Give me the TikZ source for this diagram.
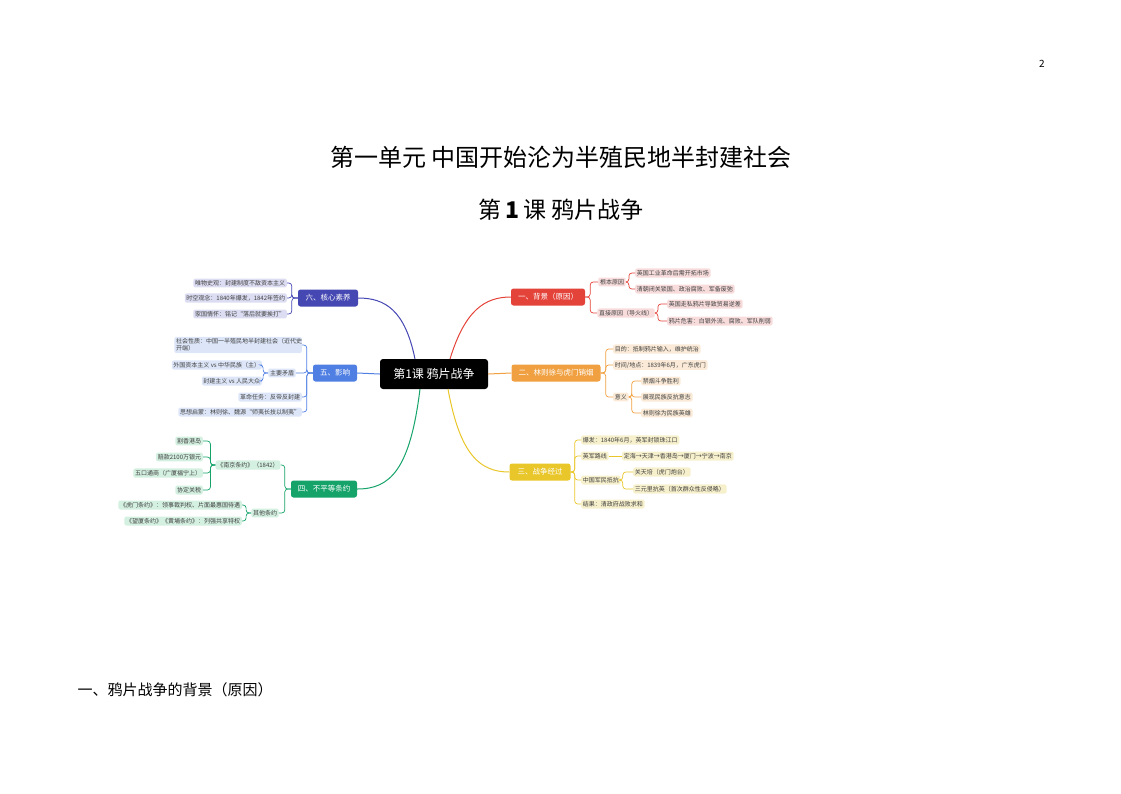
\documentclass[tikz,border=0pt]{standalone}
\usepackage{fontspec}
\setmainfont{Noto Sans CJK SC}
\begin{document}
\begin{tikzpicture}[x=1pt,y=-1pt,
 leaf/.style={fill=#1,rounded corners=2,inner sep=1.7pt,font=\fontsize{6}{7}\selectfont,text=black!75},
 br/.style={fill=#1,rounded corners=2.5,inner sep=2.5pt,minimum height=17,font=\fontsize{7.5}{9}\selectfont,text=white},
 ln/.style={draw=#1,line width=0.7pt,rounded corners=3},
 cv/.style={draw=#1,line width=1pt}]
\definecolor{cP}{HTML}{4547B3}\definecolor{lP}{HTML}{DCDDF2}
\definecolor{cB}{HTML}{4F7FE3}\definecolor{lB}{HTML}{DDE6F8}
\definecolor{cG}{HTML}{15A36A}\definecolor{lG}{HTML}{D4F0E1}
\definecolor{cR}{HTML}{E4433A}\definecolor{lR}{HTML}{F8DCDC}
\definecolor{cO}{HTML}{F0A040}\definecolor{lO}{HTML}{FAEAD7}
\definecolor{cY}{HTML}{E9C62A}\definecolor{lY}{HTML}{F7F0CC}
\useasboundingbox (0,0) rectangle (1121,793);
\node[font=\fontsize{10}{12}\selectfont] (pg) at (1042,64) {2};
\node[font=\fontsize{24}{28}\selectfont] (t1) at (561,157) {第一单元\ 中国开始沦为半殖民地半封建社会};
\node[font=\fontsize{23}{27}\selectfont] (t2) at (561,210) {第\,\textbf{1}\,课\ 鸦片战争};
\node[font=\fontsize{15}{18}\selectfont,anchor=west] (h1) at (74,690) {一、鸦片战争的背景（原因）};
% center
\node[fill=black,rounded corners=3,text=white,font=\fontsize{12}{14}\selectfont,minimum width=108,minimum height=30] (c) at (434,374) {第1课 鸦片战争};
% branches
\node[br=cP,minimum width=60] (b6) at (328,298) {六、核心素养};
\node[br=cB,minimum width=44] (b5) at (335,373) {五、影响};
\node[br=cG,minimum width=66] (b4) at (324,489) {四、不平等条约};
\node[br=cR,minimum width=74] (b1) at (548,297) {一、背景（原因）};
\node[br=cO,minimum width=89] (b2) at (556,373) {二、林则徐与虎门销烟};
\node[br=cY,minimum width=61] (b3) at (540,472) {三、战争经过};
\draw[cv=cP] (415,359) .. controls (405,310) and (385,298) .. (b6.east);
\draw[cv=cB] (c.west) -- (b5.east);
\draw[cv=cG] (420,389) .. controls (410,470) and (390,489) .. (b4.east);
\draw[cv=cR] (450,359) .. controls (465,310) and (485,297) .. (b1.west);
\draw[cv=cO] (c.east) -- (b2.west);
\draw[cv=cY] (448,389) .. controls (460,455) and (480,472) .. (b3.west);
% 六
\node[leaf=lP,anchor=east] (l61) at (287,283) {唯物史观：封建制度不敌资本主义};
\node[leaf=lP,anchor=east] (l62) at (287,298) {时空观念：1840年爆发，1842年签约};
\node[leaf=lP,anchor=east] (l63) at (287,314) {家国情怀：铭记“落后就要挨打”};
\foreach \n in {l61,l62,l63} \draw[ln=cP] (b6.west) -- ++(-6,0) |- (\n.east);
% 五
\node[leaf=lB,anchor=east,text width=124,align=left] (l51) at (302,345) {社会性质：中国一半殖民地半封建社会（近代史\\开端）};
\node[leaf=lB] (m5) at (282,373) {主要矛盾};
\node[leaf=lB,anchor=east] (l52) at (302,397) {革命任务：反帝反封建};
\node[leaf=lB,anchor=east] (l53) at (302,412) {思想启蒙：林则徐、魏源“师夷长技以制夷”};
\node[leaf=lB,anchor=east] (l5a) at (262,365) {外国资本主义 vs 中华民族（主）};
\node[leaf=lB,anchor=east] (l5b) at (262,381) {封建主义 vs 人民大众};
\foreach \n in {l51,m5,l52,l53} \draw[ln=cB] (b5.west) -- ++(-6,0) |- (\n.east);
\foreach \n in {l5a,l5b} \draw[ln=cB] (m5.west) -- ++(-5,0) |- (\n.east);
% 四
\node[leaf=lG] (n4) at (248,465) {《南京条约》（1842）};
\node[leaf=lG] (o4) at (265,513) {其他条约};
\foreach \n in {n4,o4} \draw[ln=cG] (b4.west) -- ++(-6,0) |- (\n.east);
\node[leaf=lG,anchor=east] (g1) at (203,441) {割香港岛};
\node[leaf=lG,anchor=east] (g2) at (203,457) {赔款2100万银元};
\node[leaf=lG,anchor=east] (g3) at (203,473) {五口通商（广厦福宁上）};
\node[leaf=lG,anchor=east] (g4) at (203,490) {协定关税};
\foreach \n in {g1,g2,g3,g4} \draw[ln=cG] (n4.west) -- ++(-5,0) |- (\n.east);
\node[leaf=lG,anchor=east] (g5) at (242,505) {《虎门条约》：领事裁判权、片面最惠国待遇};
\node[leaf=lG,anchor=east] (g6) at (242,521) {《望厦条约》《黄埔条约》：列强共享特权};
\foreach \n in {g5,g6} \draw[ln=cG] (o4.west) -- ++(-5,0) |- (\n.east);
% 一
\node[leaf=lR] (r1) at (612,282) {根本原因};
\node[leaf=lR] (r2) at (626,313) {直接原因（导火线）};
\foreach \n in {r1,r2} \draw[ln=cR] (b1.east) -- ++(5,0) |- (\n.west);
\node[leaf=lR,anchor=west] (r11) at (635,273) {英国工业革命后需开拓市场};
\node[leaf=lR,anchor=west] (r12) at (635,289) {清朝闭关锁国、政治腐败、军备废弛};
\foreach \n in {r11,r12} \draw[ln=cR] (r1.east) -- ++(3,0) |- (\n.west);
\node[leaf=lR,anchor=west] (r21) at (667,304) {英国走私鸦片导致贸易逆差};
\node[leaf=lR,anchor=west] (r22) at (667,321) {鸦片危害：白银外流、腐败、军队削弱};
\foreach \n in {r21,r22} \draw[ln=cR] (r2.east) -- ++(3,0) |- (\n.west);
% 二
\node[leaf=lO,anchor=west] (o1) at (613,349) {目的：抵制鸦片输入，维护统治};
\node[leaf=lO,anchor=west] (o2) at (613,365) {时间/地点：1839年6月，广东虎门};
\node[leaf=lO,anchor=west] (o3) at (613,397) {意义};
\foreach \n in {o1,o2,o3} \draw[ln=cO] (b2.east) -- ++(5,0) |- (\n.west);
\node[leaf=lO,anchor=west] (o31) at (641,381) {禁烟斗争胜利};
\node[leaf=lO,anchor=west] (o32) at (641,397) {展现民族反抗意志};
\node[leaf=lO,anchor=west] (o33) at (641,413) {林则徐为民族英雄};
\foreach \n in {o31,o32,o33} \draw[ln=cO] (o3.east) -- ++(3,0) |- (\n.west);
% 三
\node[leaf=lY,anchor=west] (y1) at (581,440) {爆发：1840年6月，英军封锁珠江口};
\node[leaf=lY,anchor=west] (y2) at (581,456) {英军路线};
\node[leaf=lY,anchor=west] (y3) at (581,480) {中国军民抵抗};
\node[leaf=lY,anchor=west] (y4) at (581,504) {结果：清政府战败求和};
\foreach \n in {y1,y2,y3,y4} \draw[ln=cY] (b3.east) -- ++(4,0) |- (\n.west);
\node[leaf=lY,anchor=west] (y21) at (622,456) {定海→天津→香港岛→厦门→宁波→南京};
\draw[ln=cY] (y2.east) -- (y21.west);
\node[leaf=lY,anchor=west] (y31) at (633,472) {关天培（虎门炮台）};
\node[leaf=lY,anchor=west] (y32) at (633,489) {三元里抗英（首次群众性反侵略）};
\foreach \n in {y31,y32} \draw[ln=cY] (y3.east) -- ++(2,0) |- (\n.west);
\end{tikzpicture}
\end{document}
